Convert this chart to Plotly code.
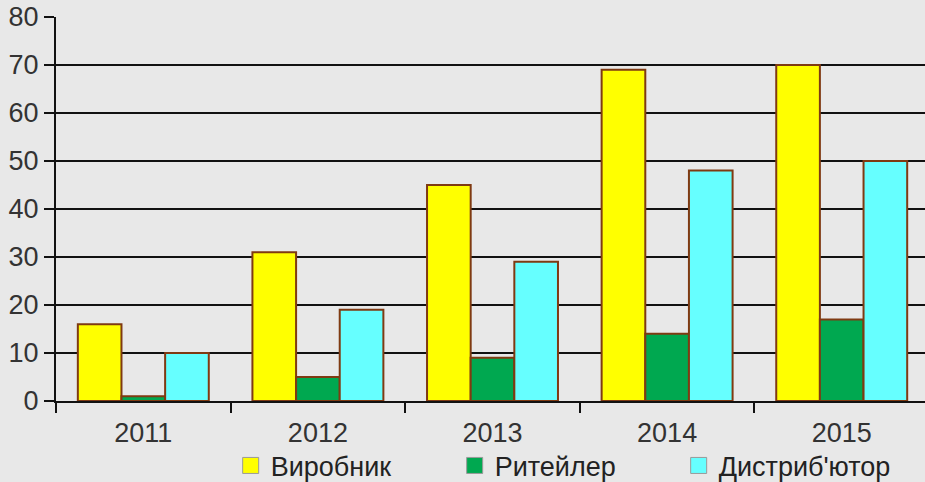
import plotly.graph_objects as go

years = ["2011", "2012", "2013", "2014", "2015"]
vyrobnyk = [16, 31, 45, 69, 70]
riteiler = [1, 5, 9, 14, 17]
dystrybutor = [10, 19, 29, 48, 50]
series_names = ["Виробник", "Ритейлер", "Дистриб'ютор"]
series_colors = ["#FFFF00", "#00A850", "#66FFFF"]
y_ticks = [0, 10, 20, 30, 40, 50, 60, 70, 80]

FONT = "Liberation Sans, Arial, sans-serif"
fig = go.Figure()
for name, vals, col in zip(series_names, [vyrobnyk, riteiler, dystrybutor], series_colors):
    fig.add_trace(go.Bar(
        x=years, y=vals, name=name, legendgroup=name, showlegend=False,
        marker=dict(color=col, line=dict(color="#7F3A12", width=2)),
    ))
    fig.add_trace(go.Scatter(
        x=[None], y=[None], mode="markers", name=name, legendgroup=name,
        marker=dict(symbol="square", size=16, color=col, line=dict(color="#999999", width=1)),
    ))

fig.update_layout(
    width=925, height=482,
    margin=dict(l=56, r=0, t=17, b=81, autoexpand=False),
    paper_bgcolor="#e8e8e8", plot_bgcolor="#e8e8e8",
    barmode="group", bargap=0.25, bargroupgap=0,
    font=dict(family=FONT, size=27, color="#333333"),
    showlegend=True,
    legend=dict(
        orientation="h", x=0.201, xanchor="left", y=-0.169, yanchor="middle",
        entrywidth=179, entrywidthmode="pixels",
        font=dict(family=FONT, size=27, color="#222222"),
        bgcolor="rgba(0,0,0,0)", itemclick=False,
    ),
    xaxis=dict(
        type="category", range=[-0.5, 4.477], tickson="boundaries",
        ticks="outside", ticklen=10, tickwidth=2, tickcolor="#111111",
        showgrid=False, showline=True, linecolor="#111111", linewidth=2,
        tickfont=dict(size=27, color="#333333"), ticklabelstandoff=7,
    ),
    yaxis=dict(
        range=[0, 80], tickvals=y_ticks, ticks="outside", ticklen=10, tickwidth=2,
        tickcolor="#111111", showgrid=True, gridcolor="#111111", gridwidth=2,
        showline=True, linecolor="#111111", linewidth=2, zeroline=False,
        tickfont=dict(size=27, color="#333333"),
    ),
)
fig.write_html("out.html", config={"displayModeBar": False},
               post_script="document.body.style.margin='0';document.body.style.overflow='hidden';")
